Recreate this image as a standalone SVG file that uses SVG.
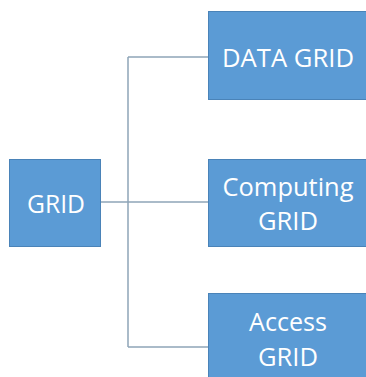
<svg xmlns="http://www.w3.org/2000/svg" width="366" height="377" viewBox="0 0 366 377">
<style>
.box{fill:#5B9BD5;stroke:#4A83B8;stroke-width:1}
.t{fill:#fff;font-family:"Open Sans","Noto Sans",sans-serif;font-size:26px;text-anchor:middle}
.c{fill:none;stroke:#8FA5B8;stroke-width:1.5}
</style>
<rect width="366" height="377" fill="#fff"/>
<g id="connectors">
<path class="c" d="M101 202H208M128 57V347M128 57H208M128 347H208"/>
</g>
<g id="grid"><rect class="box" x="9.5" y="159.5" width="91" height="87"/><text class="t" x="56" y="213" textLength="58" lengthAdjust="spacingAndGlyphs">GRID</text></g>
<g id="data-grid"><rect class="box" x="208.5" y="11.5" width="160" height="88"/><text class="t" x="288" y="67" textLength="132" lengthAdjust="spacingAndGlyphs">DATA GRID</text></g>
<g id="computing-grid"><rect class="box" x="208.5" y="159.5" width="160" height="87"/><text class="t" x="288" y="196" textLength="131" lengthAdjust="spacingAndGlyphs">Computing</text><text class="t" x="288" y="230" textLength="60" lengthAdjust="spacingAndGlyphs">GRID</text></g>
<g id="access-grid"><rect class="box" x="208.5" y="293.5" width="160" height="90"/><text class="t" x="288" y="331" textLength="78" lengthAdjust="spacingAndGlyphs">Access</text><text class="t" x="288" y="366" textLength="60" lengthAdjust="spacingAndGlyphs">GRID</text></g>
</svg>
